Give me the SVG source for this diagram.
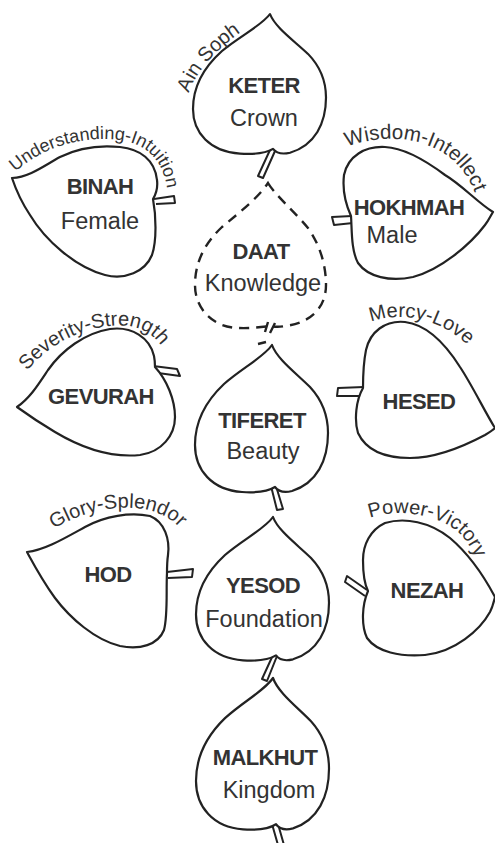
<svg xmlns="http://www.w3.org/2000/svg" xmlns:xlink="http://www.w3.org/1999/xlink" width="495" height="843" viewBox="0 0 495 843">
<style>
.leaf{fill:#fff;stroke:#222;stroke-width:2.2;stroke-linejoin:round}
.stem{fill:#fff;stroke:#222;stroke-width:2;stroke-linejoin:round}
.dash{fill:none;stroke:#222;stroke-width:2.4;stroke-dasharray:10 7}
.mark{fill:none;stroke:#222;stroke-width:2.4}
.t{font-family:"Liberation Sans",Arial,Helvetica,sans-serif;fill:#333;text-anchor:middle}
.b{font-weight:bold;font-size:22px;letter-spacing:-0.6px}
.r{font-size:23.5px}
.a{font-family:"Liberation Sans",Arial,Helvetica,sans-serif;fill:#333;font-size:20px}
</style>
<defs>
<path id="vleaf" d="M0,0 C5,14 24,28 38,42 C50,55 56,70 56,88 C56,115 45,138 20,146 C12,148 6,146 3,142 C-5,147 -15,148 -30,147 C-60,145 -77,125 -77,100 C-77,75 -65,55 -48,39 C-30,23 -8,12 0,0 Z"/>
<path id="pAin" d="M189,93 C196,70 222,42 257,22"/>
<path id="pBin" d="M15,172 C44,147 75,139 105,139 C141,139 166,155 168,199"/>
<path id="pWis" d="M347,147 C380,134 420,136 448,156 C465,170 475,186 480,212"/>
<path id="pSev" d="M27,371 C49,344 80,329 110,326 C135,323 152,332 162,347"/>
<path id="pMer" d="M371,322 C400,311 441,317 473,350"/>
<path id="pGlo" d="M54,529 C85,509 130,501 160,514 C172,519 180,527 185,535"/>
<path id="pPow" d="M370,518 C398,508 437,514 458,532 C470,543 476,556 479,572"/>
</defs>
<rect width="495" height="843" fill="#fff"/>
<g id="connectors"></g>
<g id="keter">
<path class="stem" d="M270,150 L258,176 L263,178 L275,151"/>
<use href="#vleaf" class="leaf" transform="translate(270,14) scale(1,0.95)"/>
<text class="a"><textPath href="#pAin">Ain Soph</textPath></text>
<text class="t b" x="264" y="93">KETER</text>
<text class="t r" x="264" y="126">Crown</text>
</g>
<g id="binah">
<path class="stem" d="M154,199 L174,196 L175,203 L156,204"/>
<path class="leaf" d="M12,178 C30,177 45,165 60,157 C78,148 100,145 120,147 C140,149 155,160 157,180 C158,188 156,194 153,199 C156,215 157,240 152,255 C145,272 125,280 105,275 C75,267 45,240 30,215 C22,203 16,190 12,178 Z"/>
<text class="a" style="font-size:18px"><textPath href="#pBin">Understanding-Intuition</textPath></text>
<text class="t b" x="100" y="194">BINAH</text>
<text class="t r" x="100" y="229">Female</text>
</g>
<g id="hokhmah">
<path class="stem" d="M352,216 L332,217 L334,225 L353,223"/>
<path class="leaf" d="M493,212 C478,203 462,185 445,175 C425,160 405,148 385,147 C365,146 348,156 344,175 C342,192 346,205 351,216 C352,230 351,250 358,263 C368,277 390,282 413,277 C440,270 470,245 485,225 C489,220 491,215 493,212 Z"/>
<text class="a" style="font-size:20.5px"><textPath href="#pWis">Wisdom-Intellect</textPath></text>
<text class="t b" x="409" y="215">HOKHMAH</text>
<text class="t r" x="392" y="243">Male</text>
</g>
<g id="daat">
<path class="dash" d="M268,183 C275,195 295,212 308,228 C320,245 326,265 326,285 C326,308 310,323 285,326 C280,327 275,327 270,326 C255,328 235,330 222,325 C205,318 195,303 195,285 C195,262 205,243 222,227 C240,212 258,198 268,183 Z"/>
<path class="mark" d="M265,332 L268,322 M270,333 L275,323 M258,344 L266,342"/>
<text class="t b" x="261" y="259">DAAT</text>
<text class="t r" x="263" y="291">Knowledge</text>
</g>
<g id="gevurah">
<path class="stem" d="M153,366 L177,369 L180,376 L158,373"/>
<path class="leaf" d="M17,407 C30,398 38,385 48,370 C62,350 85,333 110,329 C132,326 150,338 154,356 C155,361 155,364 155,367 C167,380 175,400 175,417 C175,435 162,452 140,455 C110,458 80,447 55,432 C40,423 28,415 17,407 Z"/>
<text class="a"><textPath href="#pSev">Severity-Strength</textPath></text>
<text class="t b" x="101" y="404">GEVURAH</text>
</g>
<g id="hesed">
<path class="stem" d="M364,387 L338,388 L337,396 L360,396"/>
<path class="leaf" d="M495,428 C485,412 472,385 460,367 C448,348 430,325 405,322 C385,320 370,332 366,350 C363,365 363,378 363,388 C356,400 354,420 358,433 C366,450 385,458 410,458 C440,458 470,443 485,435 C490,432 493,430 495,428 Z"/>
<text class="a"><textPath href="#pMer">Mercy-Love</textPath></text>
<text class="t b" x="419" y="409">HESED</text>
</g>
<g id="tiferet">
<path class="stem" d="M271,486 L277,510 L283,509 L276,486"/>
<use href="#vleaf" class="leaf" transform="translate(272,345)"/>
<text class="t b" x="262" y="428">TIFERET</text>
<text class="t r" x="263" y="459">Beauty</text>
</g>
<g id="hod">
<path class="stem" d="M167,572 L193,569 L192,577 L168,578"/>
<path class="leaf" d="M27,552 C45,550 65,538 85,527 C105,516 130,512 150,516 C165,522 170,540 168,555 C167,562 167,568 167,573 C166,590 168,615 164,630 C158,645 140,650 120,646 C95,640 70,618 55,598 C42,580 33,563 27,552 Z"/>
<text class="a"><textPath href="#pGlo">Glory-Splendor</textPath></text>
<text class="t b" x="108" y="582">HOD</text>
</g>
<g id="nezah">
<path class="stem" d="M367,590 L347,576 L345,582 L365,596"/>
<path class="leaf" d="M495,597 C486,580 470,555 450,538 C430,522 405,517 385,523 C370,530 363,545 363,560 C363,575 365,585 368,591 C362,605 361,625 367,638 C377,652 400,657 425,655 C455,652 480,630 490,612 C493,606 494,601 495,597 Z"/>
<text class="a" style="font-size:20px"><textPath href="#pPow">Power-Victory</textPath></text>
<text class="t b" x="427" y="598">NEZAH</text>
</g>
<g id="yesod">
<path class="stem" d="M273,655 L262,679 L267,681 L277,656"/>
<use href="#vleaf" class="leaf" transform="translate(273,517) scale(1,0.975)"/>
<text class="t b" x="263" y="593">YESOD</text>
<text class="t r" x="264" y="627">Foundation</text>
</g>
<g id="malkhut">
<path class="stem" d="M272,824 L278,845 L284,845 L278,824"/>
<use href="#vleaf" class="leaf" transform="translate(273,678) scale(1,1.03)"/>
<text class="t b" x="265" y="765">MALKHUT</text>
<text class="t r" x="269" y="798">Kingdom</text>
</g>
</svg>
